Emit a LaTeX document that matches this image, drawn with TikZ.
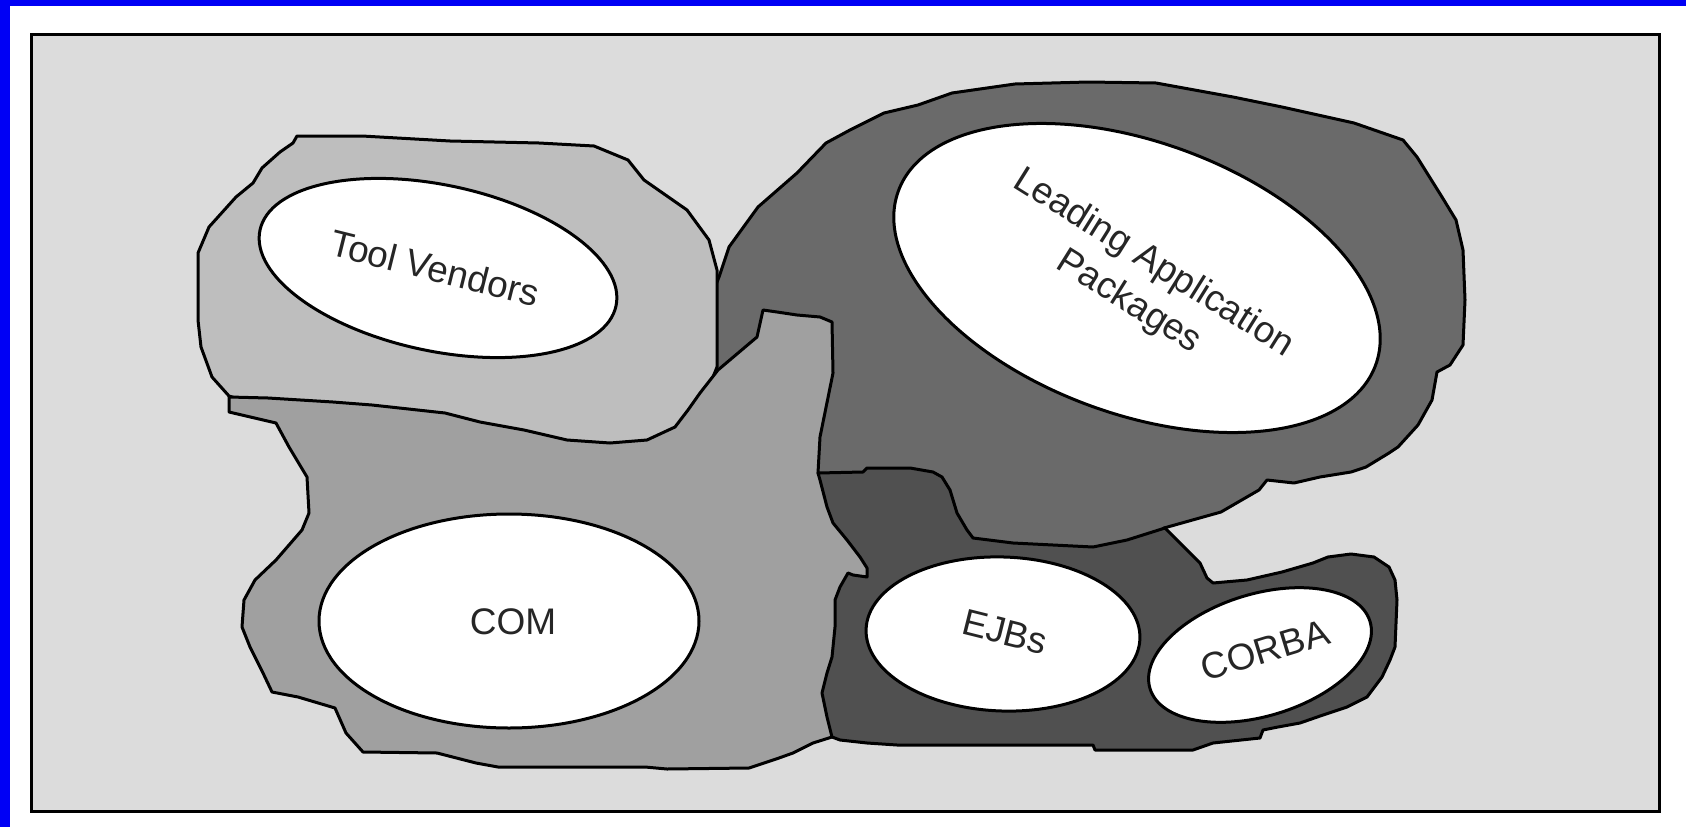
\documentclass[tikz,border=0pt]{standalone}
\usepackage{fontspec}
\newfontfamily\labelfont{Liberation Sans}
\usetikzlibrary{shapes.geometric}

\definecolor{framegray}{HTML}{DCDCDC}
\definecolor{toolgray}{HTML}{BEBEBE}
\definecolor{comgray}{HTML}{A0A0A0}
\definecolor{appgray}{HTML}{6A6A6A}
\definecolor{ejbgray}{HTML}{505050}
\definecolor{edgeblue}{HTML}{0000F5}

\tikzset{
  region/.style={draw=black, line width=3pt, line join=round},
  oval/.style={ellipse, draw=black, fill=white, line width=3pt, inner sep=0pt},
  lbl/.style={font=\labelfont\fontsize{37}{46}\selectfont, text=black!85,
              inner sep=0pt, align=center},
}

\begin{document}
\begin{tikzpicture}[x=1pt,y=-1pt]
  \useasboundingbox (0,0) rectangle (1686,827);
  \fill[white] (0,0) rectangle (1686,827);

  % blue window edges
  \fill[edgeblue] (0,0) rectangle (10,827);
  \fill[edgeblue] (0,0) rectangle (1686,6);

  % framed panel
  \draw[line width=3pt, fill=framegray] (31.5,34.5) rectangle (1659.5,811.5);

  % Leading Application Packages area
  \draw[region, fill=appgray]
    (719,277) -- (729,247) -- (758,207) -- (797,173) -- (826,143) -- (850,130)
    -- (884,113) -- (918,105) -- (952,93) -- (1015,84) -- (1088,82) -- (1156,83)
    -- (1233,97) -- (1282,107) -- (1354,123) -- (1403,140) -- (1417,157)
    -- (1427,173) -- (1442,197) -- (1456,220) -- (1463,250) -- (1465,300)
    -- (1463,345) -- (1450,365) -- (1437,372) -- (1432,400) -- (1418,425)
    -- (1398,447) -- (1389,453) -- (1366,467) -- (1351,472) -- (1320,477)
    -- (1294,483) -- (1267,480) -- (1259,490) -- (1221,512) -- (1164,528)
    -- (1100,580) -- (850,580) -- (780,450) -- (705,380) -- (710,300) -- cycle;

  % Tool Vendors area
  \draw[region, fill=toolgray]
    (297,136) -- (362,136) -- (450,141) -- (539,143) -- (594,146) -- (628,160)
    -- (644,180) -- (687,210) -- (709,240) -- (717,270) -- (717,367)
    -- (700,410) -- (660,450) -- (600,470) -- (400,425) -- (260,406)
    -- (229,396) -- (212,377) -- (201,347) -- (198,320) -- (198,253)
    -- (209,227) -- (236,197) -- (253,183) -- (262,168) -- (280,152)
    -- (293,143) -- cycle;

  % COM area
  \draw[region, fill=comgray]
    (229,397) -- (268,398) -- (333,402) -- (372,405) -- (445,413) -- (480,422)
    -- (524,430) -- (567,440) -- (610,443) -- (647,440) -- (675,427) -- (688,410)
    -- (700,393) -- (718,370) -- (757,337) -- (763,310) -- (777,312) -- (797,315)
    -- (820,317) -- (832,322) -- (833,373) -- (820,437) -- (818,473)
    -- (880,520) -- (900,600) -- (880,720) -- (832,737)
    -- (813,743) -- (793,753) -- (779,758) -- (749,768) -- (667,769) -- (645,767)
    -- (584,767) -- (498,767) -- (476,763) -- (437,753) -- (363,752) -- (346,733)
    -- (335,708) -- (298,697) -- (272,692) -- (263,673) -- (250,647) -- (242,627)
    -- (244,600) -- (255,580) -- (276,560) -- (302,530) -- (309,513) -- (307,477)
    -- (289,447) -- (276,423) -- (229,412) -- cycle;

  % EJBs / CORBA area
  \draw[region, fill=ejbgray]
    (818,473) -- (863,472) -- (867,468) -- (910,468) -- (933,472) -- (942,477)
    -- (950,490) -- (957,513) -- (967,530) -- (973,538) -- (1013,543)
    -- (1093,547) -- (1127,540) -- (1165,528) -- (1177,540) -- (1200,563)
    -- (1207,578) -- (1213,583) -- (1247,580) -- (1282,572) -- (1313,563)
    -- (1328,557) -- (1351,554) -- (1374,557) -- (1389,567) -- (1395,580)
    -- (1397,600) -- (1395,647) -- (1390,660) -- (1382,677) -- (1367,697)
    -- (1347,707) -- (1323,715) -- (1300,723) -- (1278,727) -- (1263,730)
    -- (1260,738) -- (1213,743) -- (1193,750) -- (1095,750) -- (1093,745)
    -- (897,745) -- (867,743) -- (840,740) -- (832,737) -- (827,717)
    -- (822,693) -- (827,673) -- (832,657) -- (835,627) -- (835,600)
    -- (840,587) -- (848,573) -- (853,575) -- (867,577) -- (867,568)
    -- (860,557) -- (847,540) -- (833,523) -- (827,507) -- (820,480) -- cycle;

  % white ovals
  \node[oval, minimum width=364pt, minimum height=166pt, rotate=-12] (toolOval) at (438,268) {};
  \node[oval, minimum width=508pt, minimum height=272pt, rotate=-20] (appOval) at (1137,278) {};
  \node[oval, minimum width=380pt, minimum height=214pt] (comOval) at (509,621) {};
  \node[oval, minimum width=274pt, minimum height=154pt, rotate=-2] (ejbOval) at (1003,634) {};
  \node[oval, minimum width=230pt, minimum height=122pt, rotate=17] (corbaOval) at (1260,655) {};

  % labels
  \node[lbl, rotate=-14] (toolText) at (435,268) {Tool Vendors};
  \node[lbl, rotate=-32] (appText) at (1141,283) {Leading Application\\Packages};
  \node[lbl] (comText) at (513,622) {COM};
  \node[lbl, rotate=-14] (ejbText) at (1005,632) {EJBs};
  \node[lbl, rotate=17] (corbaText) at (1265,650) {CORBA};
\end{tikzpicture}
\end{document}
